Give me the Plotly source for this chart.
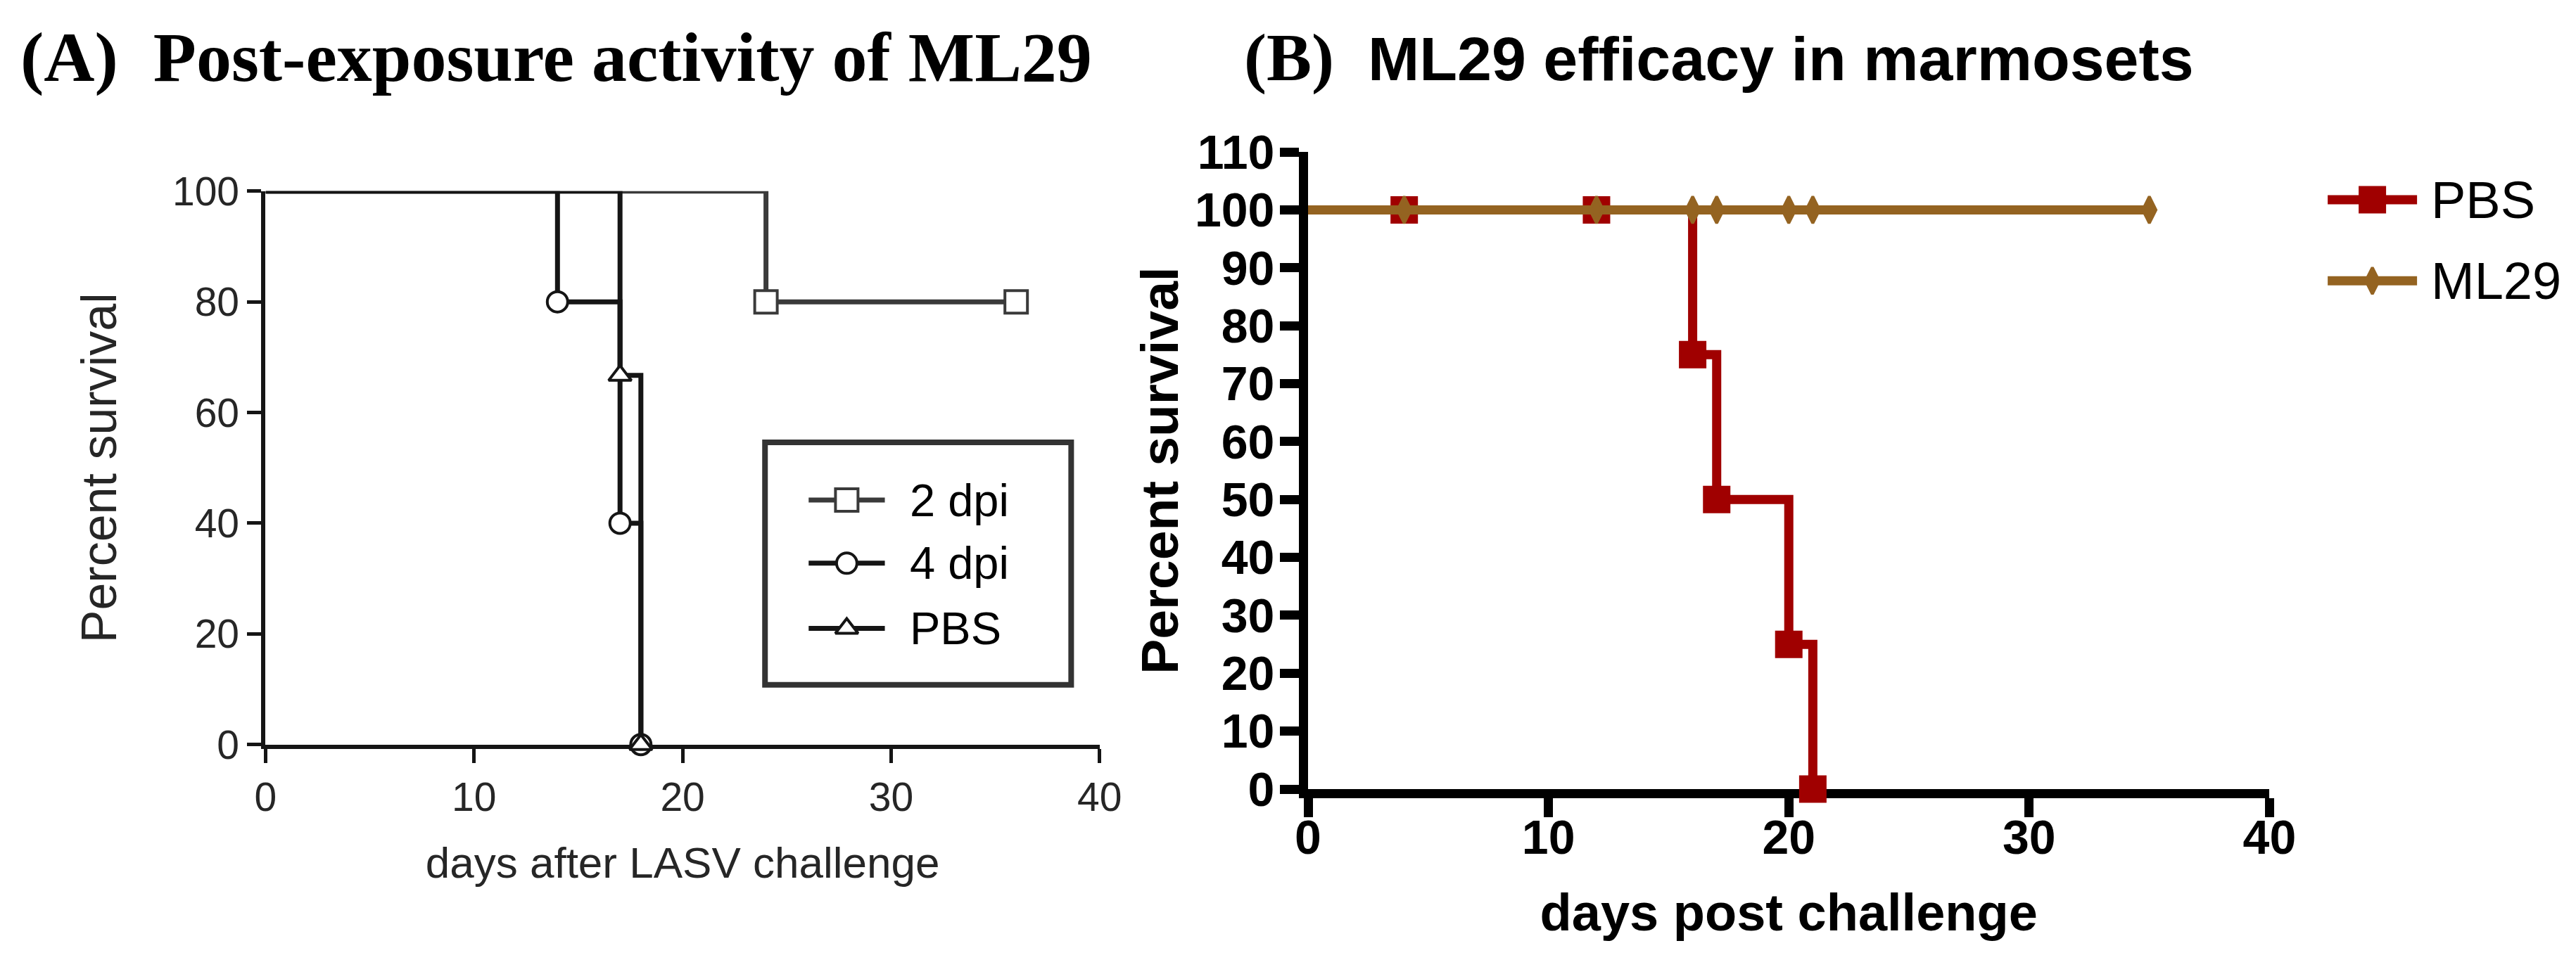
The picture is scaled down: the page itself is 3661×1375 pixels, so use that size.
import plotly.graph_objects as go

W, H = 3661, 1375

# ---- panel A : post-exposure activity (Kaplan-Meier steps) ----
a_2dpi_days = [0, 24, 36]
a_2dpi_surv = [100, 80, 80]
a_4dpi_days = [0, 14, 17, 18]
a_4dpi_surv = [100, 80, 40, 0]
a_pbs_days = [0, 17, 18]
a_pbs_surv = [100, 66.7, 0]
a_xticks = [0, 10, 20, 30, 40]
a_yticks = [0, 20, 40, 60, 80, 100]

# ---- panel B : ML29 efficacy in marmosets ----
b_pbs_days = [0, 4, 12, 16, 17, 20, 21]
b_pbs_surv = [100, 100, 100, 75, 50, 25, 0]
b_ml29_days = [0, 4, 12, 16, 17, 20, 21, 35]
b_ml29_surv = [100, 100, 100, 100, 100, 100, 100, 100]
b_xticks = [0, 10, 20, 30, 40]
b_yticks = [0, 10, 20, 30, 40, 50, 60, 70, 80, 90, 100, 110]

SANS = "Liberation Sans, Arial, sans-serif"
SERIF = "Liberation Serif, Times New Roman, serif"
TXT_A = '#262626'

# styles per series
st_2dpi = dict(color='#3a3a3a', width=7, symbol='square', size=32, fill='white', mlw=4)
st_4dpi = dict(color='#151515', width=7, symbol='circle', size=29, fill='white', mlw=4)
st_pbsa = dict(color='#151515', width=7, symbol='triangle-up', size=28, fill='white', mlw=4)
st_pbsb = dict(color='#A00000', width=13, symbol='square', size=36, fill='#A00000', mlw=3)
st_ml29 = dict(color='#946321', width=13, symbol='diamond-tall', size=27, fill='#946321', mlw=4)


def km(fig, days, surv, st, xa, ya):
    # step line, then a marker at every event / censoring point (not at t=0)
    fig.add_trace(go.Scatter(x=days, y=surv, mode='lines', xaxis=xa, yaxis=ya,
                             line=dict(color=st['color'], width=st['width'], shape='hv'),
                             cliponaxis=False, showlegend=False, hoverinfo='skip'))
    fig.add_trace(go.Scatter(x=days[1:], y=surv[1:], mode='markers', xaxis=xa, yaxis=ya,
                             marker=dict(symbol=st['symbol'], size=st['size'], color=st['fill'],
                                         line=dict(color=st['color'], width=st['mlw'])),
                             cliponaxis=False, showlegend=False, hoverinfo='skip'))


def key(fig, x0, x1, y, tx, st, label, size):
    # hand-made legend entry on the pixel overlay axes
    fig.add_trace(go.Scatter(x=[x0, x1], y=[y, y], mode='lines', xaxis='x3', yaxis='y3',
                             line=dict(color=st['color'], width=st['width']),
                             showlegend=False, hoverinfo='skip'))
    fig.add_trace(go.Scatter(x=[(x0 + x1) / 2], y=[y], mode='markers', xaxis='x3', yaxis='y3',
                             marker=dict(symbol=st['symbol'], size=st['size'], color=st['fill'],
                                         line=dict(color=st['color'], width=st['mlw'])),
                             showlegend=False, hoverinfo='skip'))
    fig.add_annotation(x=tx, y=y, xref='x3', yref='y3', text=label, showarrow=False,
                       xanchor='left', yanchor='middle', font=dict(family=SANS, size=size, color='black'))


fig = go.Figure()

km(fig, a_2dpi_days, a_2dpi_surv, st_2dpi, 'x', 'y')
km(fig, a_4dpi_days, a_4dpi_surv, st_4dpi, 'x', 'y')
km(fig, a_pbs_days, a_pbs_surv, st_pbsa, 'x', 'y')

km(fig, b_pbs_days, b_pbs_surv, st_pbsb, 'x2', 'y2')
km(fig, b_ml29_days, b_ml29_surv, st_ml29, 'x2', 'y2')

# legend A (boxed)
fig.add_shape(type='rect', xref='x3', yref='y3', x0=1077, x1=1519, y0=617, y1=982,
              line=dict(color='#333333', width=8), fillcolor='white', layer='below')
key(fig, 1140, 1250, 704, 1284, st_2dpi, '2 dpi', 65)
key(fig, 1140, 1250, 799, 1284, st_4dpi, '4 dpi', 65)
key(fig, 1140, 1250, 897, 1284, st_pbsa, 'PBS', 65)

# legend B
key(fig, 3333, 3462, 252, 3480, st_pbsb, 'PBS', 74)
key(fig, 3333, 3462, 374, 3480, st_ml29, 'ML29', 74)

# panel titles
fig.add_annotation(x=0, y=38, xref='x3', yref='y3', showarrow=False, xanchor='left', yanchor='middle',
                   text='<b>(A)\u00a0\u00a0Post-exposure activity of ML29</b>',
                   font=dict(family=SERIF, size=100, color='black'))
fig.add_annotation(x=1766, y=38, xref='x3', yref='y3', showarrow=False, xanchor='left', yanchor='middle',
                   text='<b>(B)\u00a0\u00a0</b><span style="font-family:Liberation Sans, Arial;font-size:88px">'
                        '<b>ML29 efficacy in marmosets</b></span>',
                   font=dict(family=SERIF, size=96, color='black'))

ax_a = dict(showgrid=False, zeroline=False, showline=True, linecolor='#151515', linewidth=6,
            ticks='outside', ticklen=20, tickwidth=5, tickcolor='#151515', layer='below traces',
            tickfont=dict(family=SANS, size=57, color=TXT_A))
ax_b = dict(showgrid=False, zeroline=False, showline=True, linecolor='black', linewidth=13,
            ticks='outside', ticklen=27, tickwidth=13, tickcolor='black', layer='below traces',
            tickfont=dict(family=SANS, size=68, color='black', weight='bold'))

fig.update_layout(
    width=W, height=H,
    margin=dict(l=0, r=0, t=0, b=0),
    paper_bgcolor='white', plot_bgcolor='rgba(0,0,0,0)',
    showlegend=False,
    xaxis=dict(ax_a, domain=[356 / W, 1560 / W], range=[0, 40], tickvals=a_xticks, anchor='y',
               title=dict(text='days after LASV challenge', standoff=42,
                          font=dict(family=SANS, size=62, color=TXT_A))),
    yaxis=dict(ax_a, domain=[1 - 1072 / H, 1 - 239 / H], range=[0, 100], tickvals=a_yticks, anchor='x',
               title=dict(text='Percent survival', standoff=58,
                          font=dict(family=SANS, size=70, color=TXT_A))),
    xaxis2=dict(ax_b, domain=[1861 / W, 3249 / W], range=[0, 40], tickvals=b_xticks, anchor='y2',
                ticklabelstandoff=-30,
                title=dict(text='<b>days post challenge</b>', standoff=50,
                           font=dict(family=SANS, size=74, color='black'))),
    yaxis2=dict(ax_b, domain=[1 - 1139 / H, 1 - 180 / H], range=[0, 110], tickvals=b_yticks, anchor='x2',
                ticklabelstandoff=-6,
                title=dict(text='<b>Percent survival</b>', standoff=4,
                           font=dict(family=SANS, size=75, color='black'))),
    xaxis3=dict(domain=[0, 1], range=[0, W], visible=False, fixedrange=True, anchor='y3'),
    yaxis3=dict(domain=[0, 1], range=[H, 0], visible=False, fixedrange=True, anchor='x3'),
)

fig.write_html("out.html")
